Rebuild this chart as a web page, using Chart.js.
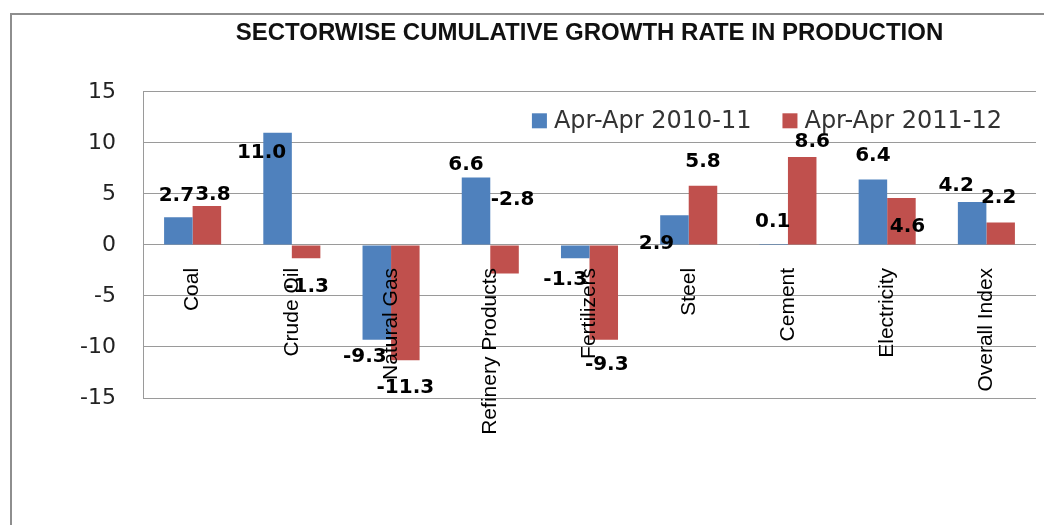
<!DOCTYPE html>
<html>
<head>
<meta charset="utf-8">
<script src="https://cdn.jsdelivr.net/npm/chart.js@4.4.0/dist/chart.umd.min.js"></script>
<style>
  html, body { margin: 0; padding: 0; background: #fff; }
  #wrap { position: relative; width: 1044px; height: 525px; overflow: hidden; }
  #frame { position: absolute; left: 10px; top: 13px; width: 1100px; height: 600px; border: 2px solid #8e8e8e; box-shadow: 1px 1px 0 #cfcfcf; }
  canvas { position: absolute; left: 0; top: 0; }
</style>
</head>
<body>
<div id="wrap">
  <div id="frame"></div>
  <canvas id="chart" width="1044" height="525"></canvas>
</div>
<script>
const categories = ['Coal', 'Crude Oil', 'Natural Gas', 'Refinery Products', 'Fertilizers', 'Steel', 'Cement', 'Electricity', 'Overall Index'];
const growth201011 = [2.7, 11.0, -9.3, 6.6, -1.3, 2.9, 0.1, 6.4, 4.2];
const growth201112 = [3.8, -1.3, -11.3, -2.8, -9.3, 5.8, 8.6, 4.6, 2.2];
const seriesNames = ['Apr-Apr 2010-11', 'Apr-Apr 2011-12'];
const yMin = -15, yMax = 15, yStep = 5;

// where Excel dropped each value label, relative to the end of its bar (px)
const labelNudge = [
    [[-2, -22], [-16, 20], [-12, 17], [-10, -13], [-10, 22], [-18, 28], [-1, -22], [0, -24], [-16, -16]],
    [[6, -11], [1, 29], [0, 28], [8, -74], [3, 25], [0, -24], [10, -15], [6, 29], [-2, -25]]
];

const valueLabels = {
    id: 'valueLabels',
    afterDatasetsDraw(chart) {
        const ctx = chart.ctx;
        ctx.save();
        ctx.font = 'bold 20px "DejaVu Sans"';
        ctx.fillStyle = '#000';
        ctx.textAlign = 'center';
        ctx.textBaseline = 'middle';
        chart.data.datasets.forEach((ds, i) => {
            chart.getDatasetMeta(i).data.forEach((bar, j) => {
                const [dx, dy] = labelNudge[i][j];
                ctx.fillText(ds.data[j].toFixed(1), bar.x + dx, bar.y + dy);
            });
        });
        ctx.restore();
    }
};

// legend sits inside the plot, top right
const insideLegend = {
    id: 'insideLegend',
    afterDraw(chart) {
        const { ctx, chartArea } = chart;
        ctx.save();
        ctx.font = '24px "DejaVu Sans"';
        ctx.textBaseline = 'middle';
        ctx.textAlign = 'left';
        const box = 15, gap = 7, itemGap = 31;
        const items = chart.data.datasets.map(ds => ({
            text: ds.label,
            color: ds.backgroundColor,
            w: box + gap + ctx.measureText(ds.label).width
        }));
        const total = items.reduce((s, it) => s + it.w, 0) + itemGap * (items.length - 1);
        let x = chartArea.right - 34 - total;
        const y = chartArea.top + 29;
        items.forEach(it => {
            ctx.fillStyle = it.color;
            ctx.fillRect(x, y - box / 2, box, box);
            ctx.fillStyle = '#333';
            ctx.fillText(it.text, x + box + gap, y + 1);
            x += it.w + itemGap;
        });
        ctx.restore();
    }
};

const ctx = document.getElementById('chart').getContext('2d');
new Chart(ctx, {
    type: 'bar',
    data: {
        labels: categories,
        datasets: [
            { label: seriesNames[0], data: growth201011, backgroundColor: '#4F81BD' },
            { label: seriesNames[1], data: growth201112, backgroundColor: '#C0504D' }
        ]
    },
    options: {
        responsive: false,
        animation: false,
        devicePixelRatio: 1,
        categoryPercentage: 0.575,
        barPercentage: 1.0,
        layout: { padding: { left: 0, right: 8, top: 0, bottom: 127 } },
        scales: {
            x: {
                position: { y: 0 },
                grid: { display: false, drawTicks: false },
                border: { display: false },
                ticks: {
                    z: 1,
                    autoSkip: false,
                    minRotation: 90,
                    maxRotation: 90,
                    padding: 23,
                    color: '#000',
                    font: { family: "'Liberation Sans', sans-serif", size: 21 }
                }
            },
            y: {
                min: yMin,
                max: yMax,
                afterFit: (scale) => { scale.width = 143; },
                grid: { color: '#9a9a9a', drawTicks: false },
                border: { color: '#9a9a9a' },
                ticks: {
                    stepSize: yStep,
                    padding: 27,
                    color: '#222',
                    font: { family: "'DejaVu Sans', sans-serif", size: 22 }
                }
            }
        },
        plugins: {
            legend: { display: false },
            tooltip: { enabled: false },
            title: {
                display: true,
                fullSize: false,
                text: 'SECTORWISE CUMULATIVE GROWTH RATE IN PRODUCTION',
                color: '#111',
                font: { family: "'Liberation Sans', sans-serif", size: 24, weight: 'bold' },
                padding: { top: 19, bottom: 44 }
            }
        }
    },
    plugins: [valueLabels, insideLegend]
});
</script>
</body>
</html>
